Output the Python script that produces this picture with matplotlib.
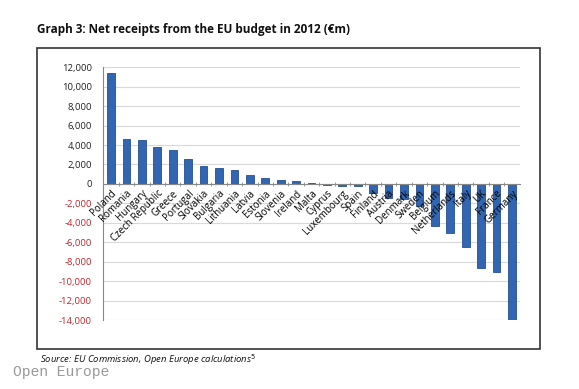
import matplotlib.pyplot as plt
from matplotlib.patches import Rectangle
from matplotlib.ticker import FuncFormatter
import numpy as np

# Net receipts from EU budget 2012 (EUR m)
countries = ["Poland", "Romania", "Hungary", "Czech Republic", "Greece", "Portugal",
             "Slovakia", "Bulgaria", "Lithuania", "Latvia", "Estonia", "Slovenia",
             "Ireland", "Malta", "Cyprus", "Luxembourg", "Spain", "Finland", "Austria",
             "Denmark", "Sweden", "Belgium", "Netherlands", "Italy", "UK", "France", "Germany"]
values = [11450, 4650, 4550, 3800, 3450, 2600, 1800, 1620, 1450, 870, 590, 420,
          350, 60, -90, -200, -250, -930, -1440, -1540, -2240, -4300, -5080,
          -6460, -8630, -9100, -14000]
yticks = np.arange(-14000, 12001, 2000)

plt.rcParams['font.family'] = ['Open Sans', 'DejaVu Sans']

fig = plt.figure(figsize=(5.79, 3.89), dpi=100)
W, H = 579, 389

# outer frame
fig.patches.append(Rectangle((37 / W, 1 - 349 / H), (540 - 37) / W, (349 - 48) / H,
                             transform=fig.transFigure, fill=False,
                             edgecolor='#333333', linewidth=1.2))

fig.text(37 / W, 1 - 30 / H, "Graph 3: Net receipts from the EU budget in 2012 (\u20acm)",
         fontsize=8.5, fontweight='bold', va='center', ha='left', color='#111111')
fig.text(40 / W, 1 - 360 / H, "Source: EU Commission, Open Europe calculations$^5$",
         fontsize=6.8, style='italic', va='center', ha='left', color='#111111')
fig.text(13 / W, 1 - 372 / H, "Open Europe", family='Liberation Mono',
         fontsize=10.5, color='#999999', va='center', ha='left')

ax = fig.add_axes([103 / W, 1 - 320 / H, (520 - 103) / W, (320 - 67.3) / H])
x = np.arange(len(countries))
ax.bar(x, values, width=0.5, color='#3366B2', edgecolor='#24508F', linewidth=0.6, zorder=2)

ax.set_xlim(-0.52, len(countries) - 0.48)
ax.set_ylim(-14000, 12000)
ax.set_yticks(yticks)
ax.yaxis.set_major_formatter(FuncFormatter(lambda v, p: f"{int(v):,}"))
ax.set_axisbelow(True)
ax.grid(axis='y', color='#d9d9d9', linewidth=0.8)
# country names sit on top of the negative bars
ax.xaxis.set_zorder(5)

for s in ['top', 'right']:
    ax.spines[s].set_visible(False)
ax.spines['left'].set_color('#888888')
ax.spines['bottom'].set_position(('data', 0))
ax.spines['bottom'].set_color('#888888')
ax.spines['bottom'].set_zorder(4)

ax.set_xticks(x - 0.5, minor=True)
ax.set_xticks(x)
ax.set_xticklabels(countries, rotation=45, ha='right', rotation_mode='anchor', fontsize=7)
ax.tick_params(axis='x', which='major', length=0, pad=3)
ax.tick_params(axis='x', which='minor', length=3, color='#888888', direction='inout')
ax.tick_params(axis='y', length=0, labelsize=6.8, pad=8)

for lab, v in zip(ax.get_yticklabels(), yticks):
    lab.set_color('#C0272D' if v < 0 else '#222222')

fig.savefig("out.png", dpi=100)
